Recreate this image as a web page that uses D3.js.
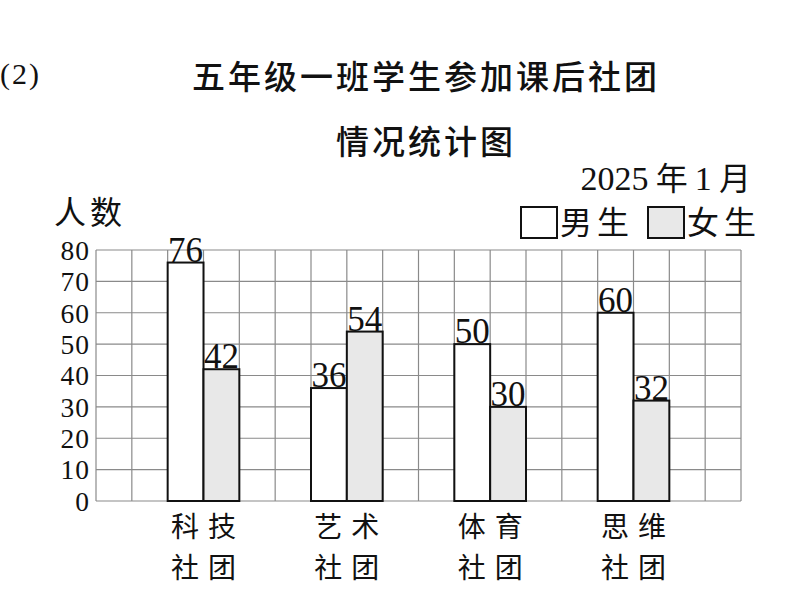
<!DOCTYPE html>
<html><head><meta charset="utf-8">
<script src="https://cdn.jsdelivr.net/npm/d3@7/dist/d3.min.js"></script>
<style>body{margin:0;background:#fff}svg{display:block}</style>
</head><body>
<svg id="c" width="806" height="598"></svg>
<script>
const categories = [["科技","社团"],["艺术","社团"],["体育","社团"],["思维","社团"]];
const seriesNames = ["男生","女生"];
const boys  = [76, 36, 50, 60];
const girls = [42, 54, 30, 32];
const yTicks = [0,10,20,30,40,50,60,70,80];
const titleLines = ["五年级一班学生参加课后社团","情况统计图"];

const svg = d3.select("#c");
const L = 96, R = 741, T = 250, B = 501;
const nCols = 18;
const serif = "'Liberation Serif','Noto Sans CJK SC',serif";
const cjk = "'Noto Sans CJK SC',sans-serif";

const y = d3.scaleLinear().domain([0,80]).range([B,T]);
const colScale = d3.scaleLinear().domain([0,nCols]).range([L,R]);
const x0 = d3.scaleBand().domain(categories.map(d=>d[0])).range([L,R]).paddingInner(0.5).paddingOuter(0.5);
const x1 = d3.scaleBand().domain(seriesNames).range([0,x0.bandwidth()]);
const fills = {"男生":"#ffffff","女生":"#e8e8e8"};

// grid
const g = svg.append("g");
g.selectAll("line.v").data(d3.range(nCols+1)).join("line")
  .attr("x1",d=>colScale(d)).attr("x2",d=>colScale(d)).attr("y1",T).attr("y2",B)
  .attr("stroke","#8a8a8a").attr("stroke-width",1.2);
g.selectAll("line.h").data(yTicks).join("line")
  .attr("x1",L).attr("x2",R).attr("y1",d=>y(d)).attr("y2",d=>y(d))
  .attr("stroke","#8a8a8a").attr("stroke-width",1.2);

// y axis labels
const yAxis = d3.axisLeft(y).tickValues(yTicks).tickSize(0).tickPadding(6);
const ya = svg.append("g").attr("transform",`translate(${L},0)`).call(yAxis);
ya.select(".domain").remove();
ya.selectAll("text").attr("font-family",serif).attr("font-size",27.5).attr("letter-spacing",1)
  .attr("fill","#111").attr("dy","0.34em");

// bars
const data = categories.map((c,i)=>({cat:c[0], vals:[{k:"男生",v:boys[i]},{k:"女生",v:girls[i]}]}));
const grp = svg.selectAll("g.grp").data(data).join("g")
  .attr("transform",d=>`translate(${x0(d.cat)},0)`);
grp.selectAll("rect").data(d=>d.vals).join("rect")
  .attr("x",d=>x1(d.k)).attr("width",x1.bandwidth())
  .attr("y",d=>y(d.v)).attr("height",d=>y(0)-y(d.v))
  .attr("fill",d=>fills[d.k]).attr("stroke","#111").attr("stroke-width",2);
grp.selectAll("text.val").data(d=>d.vals).join("text")
  .attr("x",d=>x1(d.k)+x1.bandwidth()/2).attr("y",d=>y(d.v)-1)
  .attr("text-anchor","middle").attr("font-family",serif).attr("font-size",35).attr("fill","#111")
  .text(d=>d.v);

// category labels
svg.selectAll("text.cl").data(categories).join("text")
  .attr("class","cl")
  .attr("text-anchor","middle").attr("font-family",cjk).attr("font-size",28)
  .attr("letter-spacing",9).attr("fill","#111")
  .each(function(d){
    const cx = x0(d[0]) + x0.bandwidth()/2 + 4.5;
    const t = d3.select(this);
    d.forEach((line,j)=>{
      t.append("tspan").attr("x",cx).attr("y",537+j*41).text(line);
    });
  });

// titles
svg.append("text").attr("x",426).attr("y",89).attr("text-anchor","middle")
  .attr("font-family",cjk).attr("font-weight",500).attr("font-size",33).attr("letter-spacing",3)
  .attr("fill","#111").text(titleLines[0]);
svg.append("text").attr("x",426).attr("y",154).attr("text-anchor","middle")
  .attr("font-family",cjk).attr("font-weight",500).attr("font-size",33).attr("letter-spacing",3)
  .attr("fill","#111").text(titleLines[1]);
svg.append("text").attr("x",0).attr("y",84)
  .attr("font-family",serif).attr("font-size",30).attr("letter-spacing",2).attr("fill","#111").text("(2)");

// date
const dt = svg.append("text").attr("x",751).attr("y",190).attr("text-anchor","end")
  .attr("font-family",serif).attr("font-size",34).attr("fill","#111");
dt.append("tspan").text("2025");
dt.append("tspan").attr("font-family",cjk).attr("font-size",32).text(" 年 ");
dt.append("tspan").text("1");
dt.append("tspan").attr("font-family",cjk).attr("font-size",32).text(" 月");

// y label
svg.append("text").attr("x",54).attr("y",224).attr("font-family",cjk).attr("font-size",32)
  .attr("letter-spacing",4).attr("fill","#111").text("人数");

// legend
const legX = [521, 648];
const lg = svg.selectAll("g.lg").data(seriesNames).join("g")
  .attr("transform",(d,i)=>`translate(${legX[i]},207)`);
lg.append("rect").attr("width",36).attr("height",31)
  .attr("fill",d=>fills[d]).attr("stroke","#111").attr("stroke-width",2);
lg.append("text").attr("x",39).attr("y",27).attr("font-family",cjk).attr("font-size",32)
  .attr("letter-spacing",5).attr("fill","#111").text(d=>d);
</script>
</body></html>
